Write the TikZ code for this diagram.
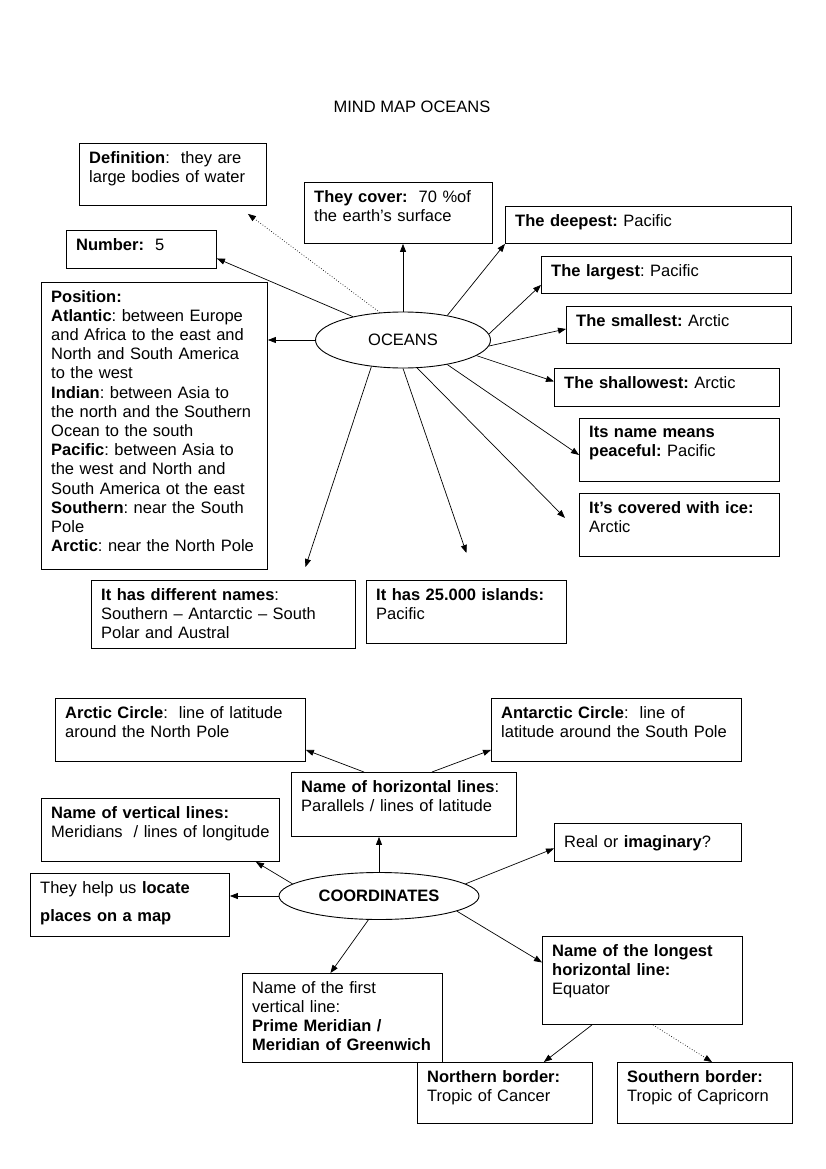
\documentclass[tikz,border=0pt]{standalone}
\usepackage{fontspec}
\setmainfont{Liberation Sans}
\usetikzlibrary{arrows.meta,shapes.geometric}
\frenchspacing

\begin{document}
\begin{tikzpicture}[
  x=1pt, y=-1pt,
  font=\fontsize{16.5}{19.2}\selectfont,
  box/.style={draw, line width=0.9pt, anchor=north west, inner sep=0pt},
  txt/.style={anchor=north west, inner xsep=10pt, inner ysep=8pt, text width=330pt, align=left},
  hub/.style={draw, ellipse, line width=0.9pt, inner sep=0pt},
  arr/.style={-{Triangle[length=8pt,width=6pt]}, line width=0.7pt},
  dots/.style={arr, dotted}
]
\useasboundingbox (0,0) rectangle (826,1169);

\node (title) at (412,107) {MIND MAP OCEANS};

% oceans
\node[hub, minimum width=175, minimum height=56] (oc) at (403,340) {OCEANS};

\node[box, minimum width=187, minimum height=62,
  label={[txt]north west:{\textbf{Definition}:\ \ they are\\large bodies of water}}] (def) at (79,143) {};
\node[box, minimum width=188, minimum height=61,
  label={[txt]north west:{\textbf{They cover:}\ \ 70~\%of\\the earth's surface}}] (cover) at (304,182) {};
\node[box, minimum width=286, minimum height=37,
  label={[txt]north west:{\textbf{The deepest:} Pacific}}] (deep) at (505,206) {};
\node[box, minimum width=150, minimum height=38,
  label={[txt]north west:{\textbf{Number:}\ \ 5}}] (num) at (66,230) {};
\node[box, minimum width=250, minimum height=37,
  label={[txt]north west:{\textbf{The largest}: Pacific}}] (large) at (541,256) {};
\node[box, minimum width=226, minimum height=287,
  label={[txt]north west:{\textbf{Position:}\\
    \textbf{Atlantic}: between Europe\\
    and Africa to the east and\\
    North and South America\\
    to the west\\
    \textbf{Indian}: between Asia to\\
    the north and the Southern\\
    Ocean to the south\\
    \textbf{Pacific}: between Asia to\\
    the west and North and\\
    South America ot the east\\
    \textbf{Southern}: near the South\\
    Pole\\
    \textbf{Arctic}: near the North Pole}}] (pos) at (41,282) {};
\node[box, minimum width=225, minimum height=37,
  label={[txt]north west:{\textbf{The smallest:} Arctic}}] (small) at (566,306) {};
\node[box, minimum width=225, minimum height=38,
  label={[txt]north west:{\textbf{The shallowest:} Arctic}}] (shallow) at (554,368) {};
\node[box, minimum width=200, minimum height=63,
  label={[txt]north west:{\textbf{Its name means}\\\textbf{peaceful:} Pacific}}] (peace) at (579,418) {};
\node[box, minimum width=200, minimum height=63,
  label={[txt]north west:{\textbf{It’s covered with ice:}\\Arctic}}] (ice) at (579,493) {};
\node[box, minimum width=264, minimum height=68,
  label={[txt]north west:{\textbf{It has different names}:\\Southern – Antarctic – South\\Polar and Austral}}] (names) at (91,580) {};
\node[box, minimum width=200, minimum height=63,
  label={[txt]north west:{\textbf{It has 25.000 islands:}\\Pacific}}] (isl) at (366,580) {};

\draw[arr] (oc.north) -- (oc.north |- cover.south);
\draw[arr] (oc.29) -- (deep.south west);
\draw[arr] (oc.4) -- ([yshift=-10pt]large.west);
\draw[arr] (oc.-4) -- ([yshift=-4pt]small.west);
\draw[arr] (oc.-12) -- ([yshift=6pt]shallow.west);
\draw[arr] (oc.-29) -- ([yshift=-5pt]peace.west);
\draw[arr] (oc.-63) -- ([xshift=-14pt,yshift=7pt]ice.west);
\draw[arr] (oc.south) -- ([yshift=27pt]isl.north);
\draw[arr] (oc.-140) -- ([xshift=82pt,yshift=13pt]names.north);
\draw[arr] (oc.west) -- (oc.west -| pos.east);
\draw[arr] (oc.155) -- ([yshift=-9pt]num.east);
\draw[dots] (oc.130) -- ([xshift=-19pt,yshift=-8pt]def.south east);

% coordinates
\node[hub, minimum width=200, minimum height=47] (co) at (379,896) {\textbf{COORDINATES}};

\node[box, minimum width=250, minimum height=63,
  label={[txt]north west:{\textbf{Arctic Circle}:\ \ line of latitude\\around the North Pole}}] (arctic) at (55,698) {};
\node[box, minimum width=250, minimum height=63,
  label={[txt]north west:{\textbf{Antarctic Circle}:\ \ line of\\latitude around the South Pole}}] (antarc) at (491,698) {};
\node[box, minimum width=225, minimum height=64,
  label={[txt]north west:{\textbf{Name of horizontal lines}:\\Parallels / lines of latitude}}] (hor) at (291,772) {};
\node[box, minimum width=238, minimum height=63,
  label={[txt]north west:{\textbf{Name of vertical lines:}\\Meridians\ \ / lines of longitude}}] (vert) at (41,798) {};
\node[box, minimum width=187, minimum height=38,
  label={[txt, yshift=-4pt]north west:{Real or \textbf{imaginary}?}}] (real) at (554,823) {};
\node[box, minimum width=199, minimum height=63,
  label={[txt]north west:{They help us \textbf{locate}\\[9pt]\textbf{places on a map}}}] (loc) at (30,873) {};
\node[box, minimum width=200, minimum height=89,
  label={[txt]north west:{Name of the first\\vertical line:\\\textbf{Prime Meridian /}\\\textbf{Meridian of Greenwich}}}] (first) at (242,973) {};
\node[box, minimum width=200, minimum height=88,
  label={[txt]north west:{\textbf{Name of the longest}\\\textbf{horizontal line:}\\Equator}}] (long) at (542,936) {};
\node[box, minimum width=175, minimum height=61,
  label={[txt]north west:{\textbf{Northern border:}\\Tropic of Cancer}}] (nborder) at (417,1062) {};
\node[box, minimum width=175, minimum height=61,
  label={[txt]north west:{\textbf{Southern border:}\\Tropic of Capricorn}}] (sborder) at (617,1062) {};

\draw[arr] ([xshift=-40pt]hor.north) -- ([yshift=-20pt]arctic.east);
\draw[arr] ([xshift=28pt]hor.north) -- ([yshift=-20pt]antarc.west);
\draw[arr] (co.north) -- (co.north |- hor.south);
\draw[arr] (co.172) -- ([xshift=-24pt]vert.south east);
\draw[arr] (co.west) -- (co.west -| loc.east);
\draw[arr] (co.8) -- ([yshift=-6pt]real.west);
\draw[arr] (co.-114) -- ([xshift=-12pt]first.north);
\draw[arr] (co.-11) -- ([yshift=18pt]long.west);
\draw[arr] ([xshift=50pt]long.south west) -- ([xshift=-49pt]nborder.north east);
\draw[dots] ([xshift=111pt]long.south west) -- ([xshift=95pt]sborder.north west);
\end{tikzpicture}
\end{document}
